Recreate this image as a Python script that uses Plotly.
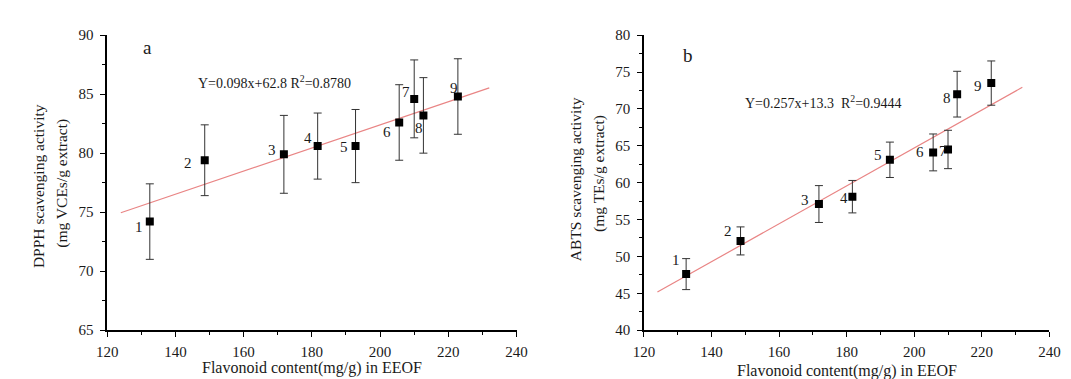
import plotly.graph_objects as go

# ---------------- data ----------------
flavonoid = [132.5, 148.6, 171.8, 181.7, 192.8, 205.6, 210.0, 212.7, 222.8]
point_labels = ["1", "2", "3", "4", "5", "6", "7", "8", "9"]

dpph = [74.2, 79.4, 79.9, 80.6, 80.6, 82.6, 84.6, 83.2, 84.8]
dpph_err = [3.2, 3.0, 3.3, 2.8, 3.1, 3.2, 3.3, 3.2, 3.2]

abts = [47.6, 52.1, 57.1, 58.1, 63.1, 64.1, 64.5, 72.0, 73.5]
abts_err = [2.1, 1.9, 2.5, 2.2, 2.4, 2.5, 2.6, 3.1, 3.0]

dpph_slope, dpph_intercept = 0.098, 62.8
abts_slope, abts_intercept = 0.257, 13.3
fit_x_range = [124, 232]

x_ticks = [120, 140, 160, 180, 200, 220, 240]
dpph_ticks = [65, 70, 75, 80, 85, 90]
abts_ticks = [40, 45, 50, 55, 60, 65, 70, 75, 80]

# ---------------- styling ----------------
W, H = 1071, 379
FONT = "Liberation Serif"
LINE_RED = "#e98585"
TXT = "#1a1a1a"

# label offsets in pixels (dx, dy) relative to the points
dpph_lbl_off = [(-11, 5), (-17, 3), (-12, -4), (-10, -8), (-12, 1), (-12, 10), (-8, -7), (-4, 13), (-4, -9)]
abts_lbl_off = [(-10, -14), (-13, -10), (-14, -4), (-8, 1), (-12, -5), (-13, 0), (-5, 2), (-10, 4), (-13, 3)]

fig = go.Figure()


def add_panel(xa, ya, yvals, yerr, slope, intercept):
    fit_y = [slope * v + intercept for v in fit_x_range]
    fig.add_trace(go.Scatter(
        x=fit_x_range, y=fit_y, mode="lines",
        line=dict(color=LINE_RED, width=1.2),
        xaxis=xa, yaxis=ya, showlegend=False, hoverinfo="skip"))
    fig.add_trace(go.Scatter(
        x=flavonoid, y=yvals, mode="markers",
        marker=dict(symbol="square", size=8, color="black"),
        error_y=dict(type="data", array=yerr, visible=True,
                     color="#333333", thickness=1, width=4),
        xaxis=xa, yaxis=ya, showlegend=False))


add_panel("x", "y", dpph, dpph_err, dpph_slope, dpph_intercept)
add_panel("x2", "y2", abts, abts_err, abts_slope, abts_intercept)

ydom = [(H - 328) / H, (H - 20) / H]
axis_common = dict(
    showgrid=False, zeroline=False, showline=True, linecolor="black", linewidth=1.5,
    ticks="outside", ticklen=5, tickwidth=1.2, tickcolor="black",
    tickfont=dict(family=FONT, size=15, color=TXT),
)
xminor = dict(ticks="outside", ticklen=3, tickwidth=1.2, tickcolor="black", dtick=10)
yminor = dict(ticks="outside", ticklen=3, tickwidth=1.2, tickcolor="black", dtick=2.5)

fig.update_layout(
    width=W, height=H,
    margin=dict(l=0, r=0, t=0, b=0),
    paper_bgcolor="white", plot_bgcolor="white",
    font=dict(family=FONT, color=TXT),
    xaxis=dict(domain=[90 / W, 508 / W], range=[120, 240], tickvals=x_ticks,
               anchor="y", minor=xminor, ticklabelstandoff=2, **axis_common),
    yaxis=dict(domain=ydom, range=[65, 90], tickvals=dpph_ticks,
               anchor="x", minor=yminor, ticklabelstandoff=4, **axis_common),
    xaxis2=dict(domain=[638 / W, 1052 / W], range=[120, 240], tickvals=x_ticks,
                anchor="y2", minor=xminor, ticklabelstandoff=2, **axis_common),
    yaxis2=dict(domain=ydom, range=[40, 80], tickvals=abts_ticks,
                anchor="x2", minor=yminor, ticklabelstandoff=4, **axis_common),
)

annotations = []


def paper(px, py):
    return px / W, 1 - py / H


def txt(px, py, text, size=14, angle=0):
    x, y = paper(px, py)
    annotations.append(dict(x=x, y=y, xref="paper", yref="paper", text=text,
                            showarrow=False, textangle=angle,
                            font=dict(family=FONT, size=size, color=TXT),
                            xanchor="center", yanchor="middle"))


# axis titles
txt(299, 367, "Flavonoid content(mg/g) in EEOF", 16)
txt(845, 371, "Flavonoid content(mg/g) in EEOF", 16)
txt(20, 178, "DPPH scavenging activity", 15.5, -90)
txt(44, 175, "(mg VCEs/g extract)", 15.5, -90)
txt(569, 170, "ABTS scavenging activity", 15.5, -90)
txt(592, 164, "(mg TEs/g extract)", 15.5, -90)

# panel letters
txt(131, 33, "a", 19)
txt(683, 41, "b", 19)

# equations
txt(261, 69, "Y=0.098x+62.8 R<sup>2</sup>=0.8780", 14)
txt(821, 90, "Y=0.257x+13.3  R<sup>2</sup>=0.9444", 14)

# point labels
for xa, ya, yvals, offs in (("x", "y", dpph, dpph_lbl_off), ("x2", "y2", abts, abts_lbl_off)):
    for xv, yv, lab, (dx, dy) in zip(flavonoid, yvals, point_labels, offs):
        annotations.append(dict(x=xv, y=yv, xref=xa, yref=ya, text=lab, showarrow=False,
                                xshift=dx, yshift=-dy,
                                font=dict(family=FONT, size=15, color=TXT),
                                xanchor="center", yanchor="middle"))

fig.update_layout(annotations=annotations)

fig.write_html("out.html")
